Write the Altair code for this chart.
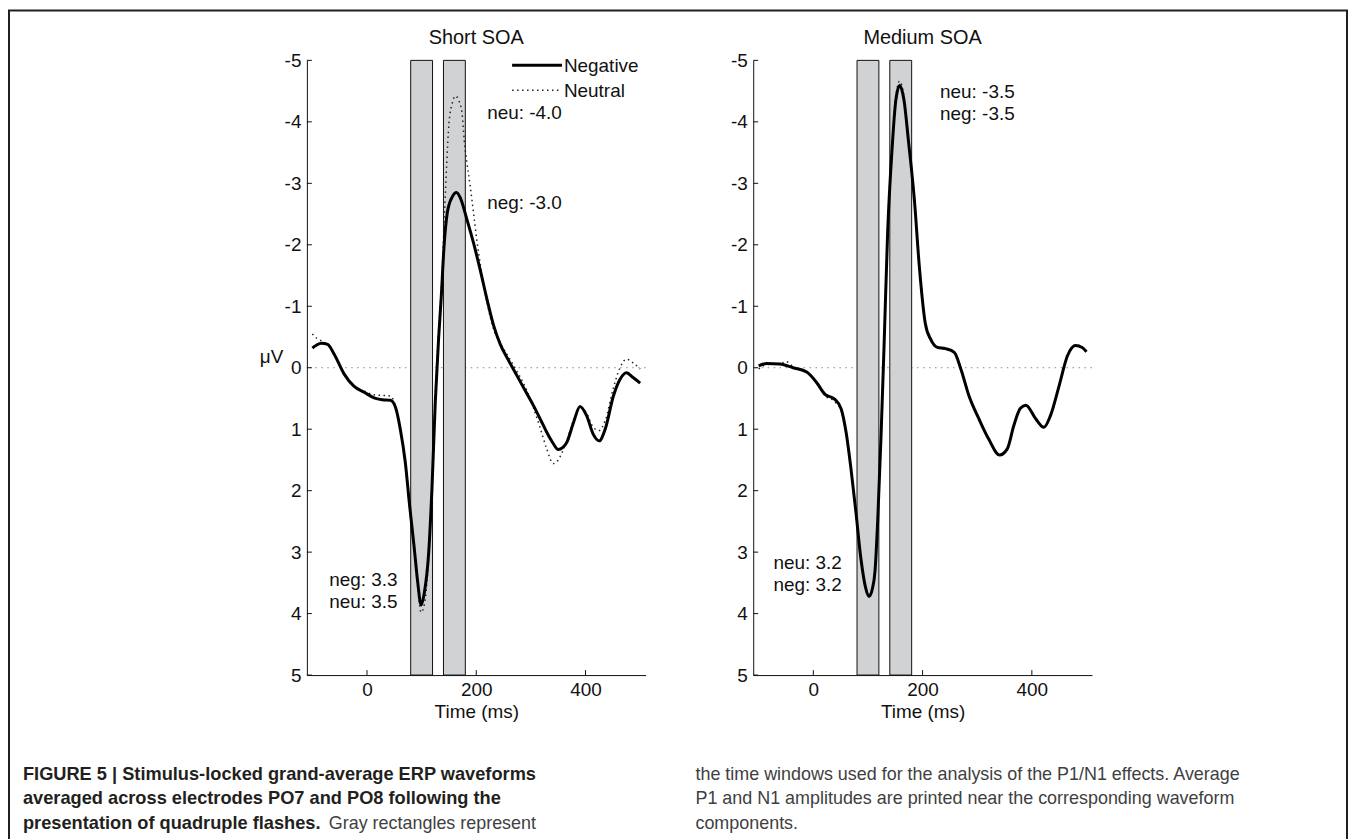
import altair as alt
import pandas as pd

FONT = "Liberation Sans"
CAPFONT = "Liberation Sans"
INK = "#111111"
FRAME = "#231f20"

# ---------------- data ----------------
panel_titles = ["Short SOA", "Medium SOA"]
legend_labels = ["Negative", "Neutral"]
x_ticks = [0, 200, 400]
y_ticks = [-5, -4, -3, -2, -1, 0, 1, 2, 3, 4, 5]
window_start = [80, 140]
window_end = [120, 180]

short_neg_t = [-100, -92, -84, -72, -60, -42, -24, -5, 13, 28, 43, 52, 61, 70, 78, 86, 93, 99, 105, 113,
               119, 125, 131, 136, 141, 147, 156, 164, 171, 183, 195, 207, 220, 232, 244, 259, 274, 290, 305, 318,
               329, 340, 350, 358, 366, 378, 390, 402, 414, 425, 436, 451, 463, 475, 487, 500]
short_neg_v = [-0.32, -0.37, -0.40, -0.38, -0.22, 0.10, 0.30, 0.40, 0.49, 0.52, 0.53, 0.64, 1.00, 1.53, 2.24, 2.89, 3.50, 3.86, 3.66, 3.00,
               1.95, 0.56, -0.46, -1.16, -1.97, -2.52, -2.78, -2.85, -2.76, -2.41, -2.03, -1.60, -1.10, -0.68, -0.38, -0.12, 0.12, 0.38, 0.62, 0.85,
               1.05, 1.22, 1.33, 1.30, 1.21, 0.89, 0.63, 0.78, 1.08, 1.19, 1.00, 0.46, 0.19, 0.08, 0.16, 0.25]

short_neu_t = [-100, -92, -84, -72, -60, -42, -24, -5, 13, 28, 43, 52, 61, 70, 78, 86, 93, 99, 105, 113,
               119, 125, 131, 137, 142, 146, 150, 156, 162, 168, 174, 178, 183, 189, 195, 201, 208, 220, 232, 244,
               259, 274, 290, 305, 317, 329, 341, 350, 358, 366, 378, 390, 402, 414, 425, 436, 451, 463, 475, 487, 500]
short_neu_v = [-0.55, -0.48, -0.44, -0.37, -0.22, 0.10, 0.30, 0.38, 0.44, 0.45, 0.46, 0.62, 1.00, 1.55, 2.28, 2.95, 3.58, 3.98, 3.85, 3.08,
               1.95, 0.45, -0.57, -1.45, -2.52, -3.33, -3.97, -4.30, -4.42, -4.35, -4.14, -3.70, -3.33, -2.95, -2.52, -2.08, -1.65, -1.05, -0.62, -0.40,
               -0.18, 0.05, 0.32, 0.66, 0.98, 1.32, 1.56, 1.50, 1.36, 1.18, 0.86, 0.65, 0.74, 0.97, 1.02, 0.86, 0.33, 0.00, -0.14, -0.08, 0.02]

med_neg_t = [-100, -85, -61, -37, -12, 6, 21, 39, 51, 60, 69, 78, 87, 96, 102, 108, 113, 118, 124, 130,
             136, 144, 151, 158, 166, 174, 185, 194, 205, 215, 227, 242, 258, 270, 285, 303, 321, 341, 355, 367,
             379, 389, 407, 422, 434, 450, 465, 480, 492, 500]
med_neg_v = [-0.03, -0.07, -0.06, 0.00, 0.07, 0.24, 0.43, 0.51, 0.67, 1.05, 1.65, 2.35, 3.10, 3.59, 3.72, 3.60, 3.30, 2.46, 1.10, -0.50,
             -2.19, -3.54, -4.35, -4.59, -4.35, -3.70, -2.73, -1.65, -0.72, -0.46, -0.33, -0.31, -0.25, 0.02, 0.46, 0.83, 1.16, 1.42, 1.32, 0.94,
             0.66, 0.61, 0.83, 0.97, 0.78, 0.29, -0.19, -0.36, -0.33, -0.26]

med_neu_t = [-100, -85, -61, -50, -37, -12, 6, 21, 39, 51, 60, 69, 78, 87, 96, 102, 108, 113, 118, 124, 130,
             136, 144, 151, 158, 166, 174, 185, 194, 205, 215, 227, 242, 258, 270, 285, 303, 321, 341, 355, 367,
             379, 389, 407, 422, 434, 450, 465, 480, 492, 500]
med_neu_v = [0.02, -0.05, -0.06, -0.10, -0.02, 0.07, 0.24, 0.45, 0.55, 0.70, 1.08, 1.68, 2.40, 3.12, 3.59, 3.70, 3.58, 3.28, 2.42, 1.05, -0.55,
             -2.25, -3.60, -4.42, -4.66, -4.40, -3.72, -2.75, -1.65, -0.72, -0.44, -0.32, -0.30, -0.26, 0.00, 0.44, 0.82, 1.16, 1.43, 1.33, 0.95,
             0.66, 0.61, 0.82, 0.97, 0.78, 0.29, -0.19, -0.37, -0.34, -0.27]

short_ann_text = ["neu: -4.0", "neg: -3.0", "neg: 3.3", "neu: 3.5"]
short_ann_t = [220, 220, -69, -69]
short_ann_v = [-4.14, -2.68, 3.45, 3.81]
med_ann_text = ["neu: -3.5", "neg: -3.5", "neu: 3.2", "neg: 3.2"]
med_ann_t = [232, 232, -73, -73]
med_ann_v = [-4.49, -4.12, 3.18, 3.53]

caption_left_bold = ["FIGURE 5 | Stimulus-locked grand-average ERP waveforms",
                     "averaged across electrodes PO7 and PO8 following the",
                     "presentation of quadruple flashes."]
caption_left_tail = "Gray rectangles represent"
caption_right = ["the time windows used for the analysis of the P1/N1 effects. Average",
                 "P1 and N1 amplitudes are printed near the corresponding waveform",
                 "components."]

# ---------------- layout constants ----------------
W, H = 340, 617
XDOM = [-110, 510]
INNER_W = 1341
BORDER_H = 840
TOP_GAP = 19
SP1 = 250
SP2 = 84
CAP_H = 110
CAP_TOP = 53
CAP_STEP = 24.5


def one():
    return pd.DataFrame({"a": [0]})


def panel(title, neg_t, neg_v, neu_t, neu_v, ann_text, ann_t, ann_v, first):
    xaxis = alt.Axis(values=x_ticks, tickSize=0, labelPadding=6, title="Time (ms)", titlePadding=3,
                     grid=False, domainColor=INK, domainWidth=1, labelFontSize=19, titleFontSize=19,
                     labelFont=FONT, titleFont=FONT, titleFontWeight="normal", labelColor=INK,
                     titleColor=INK, labelFlush=False)
    ykw = dict(values=y_ticks, tickSize=0, labelPadding=6, grid=False, domainColor=INK, domainWidth=1,
               labelFontSize=19, labelFont=FONT, labelColor=INK, labelExpr="'' + datum.value")
    if first:
        yaxis = alt.Axis(title="μV", titleAngle=0, titleX=-36, titleY=297, titleAlign="center",
                         titleBaseline="middle", titleFontSize=19, titleFont=FONT,
                         titleFontWeight="normal", titleColor=INK, **ykw)
    else:
        yaxis = alt.Axis(title=None, **ykw)

    def X(f):
        return alt.X(f, type="quantitative", scale=alt.Scale(domain=XDOM, nice=False, zero=False), axis=xaxis)

    def Y(f):
        return alt.Y(f, type="quantitative", scale=alt.Scale(domain=[-5, 5], reverse=True, nice=False, zero=False), axis=yaxis)

    zero = alt.Chart(pd.DataFrame({"v": [0]})).mark_rule(color="#8a8a8a", strokeDash=[1.5, 4.5], strokeWidth=1).encode(y=Y("v"))
    rects = alt.Chart(pd.DataFrame({"t": window_start, "t2": window_end, "v": [-5, -5], "v2": [5, 5]})).mark_rect(
        fill="#d1d2d4", stroke="#111111", strokeWidth=1).encode(x=X("t"), x2="t2", y=Y("v"), y2="v2")
    yt = alt.Chart(pd.DataFrame({"v": y_ticks})).mark_rule(color=INK, strokeWidth=1).encode(
        y=Y("v"), x=alt.value(0), x2=alt.value(5))
    xt = alt.Chart(pd.DataFrame({"t": x_ticks})).mark_rule(color=INK, strokeWidth=1).encode(
        x=X("t"), y=alt.value(H), y2=alt.value(H - 5))
    neg = alt.Chart(pd.DataFrame({"t": neg_t, "v": neg_v})).mark_line(
        color="#000000", strokeWidth=3, interpolate="monotone").encode(x=X("t"), y=Y("v"))
    neu = alt.Chart(pd.DataFrame({"t": neu_t, "v": neu_v})).mark_line(
        color="#222222", strokeWidth=1.5, strokeDash=[1.5, 3.5], interpolate="monotone").encode(x=X("t"), y=Y("v"))
    ann = alt.Chart(pd.DataFrame({"label": ann_text, "t": ann_t, "v": ann_v})).mark_text(
        align="left", baseline="middle", fontSize=19, font=FONT, color=INK).encode(x=X("t"), y=Y("v"), text="label:N")
    layers = [zero, rects, yt, xt, neu, neg, ann]
    if first:
        l1 = alt.Chart(one()).mark_rule(color="#000000", strokeWidth=3).encode(
            x=alt.value(206), x2=alt.value(256), y=alt.value(5))
        l2 = alt.Chart(one()).mark_rule(color="#222222", strokeWidth=1.5, strokeDash=[1.5, 3.5]).encode(
            x=alt.value(206), x2=alt.value(256), y=alt.value(30))
        t1 = alt.Chart(one()).mark_text(text=legend_labels[0], align="left", baseline="middle", fontSize=19,
                                        font=FONT, color=INK).encode(x=alt.value(258), y=alt.value(6))
        t2 = alt.Chart(one()).mark_text(text=legend_labels[1], align="left", baseline="middle", fontSize=19,
                                        font=FONT, color=INK).encode(x=alt.value(258), y=alt.value(31))
        layers += [l1, l2, t1, t2]
    return alt.layer(*layers).properties(
        width=W, height=H,
        title=alt.TitleParams(title, fontSize=20, font=FONT, fontWeight="normal", color=INK, offset=3, anchor="middle"))


def blank(w, h):
    return alt.Chart(one()).mark_rect(opacity=0).encode(
        x=alt.value(0), x2=alt.value(w), y=alt.value(0), y2=alt.value(h)).properties(width=w, height=h)


def vborder():
    return alt.Chart(one()).mark_rect(color=FRAME).encode(
        x=alt.value(0), x2=alt.value(2), y=alt.value(0), y2=alt.value(BORDER_H)).properties(width=2, height=BORDER_H)


top_border = alt.Chart(one()).mark_rect(color=FRAME).encode(
    x=alt.value(0), x2=alt.value(INNER_W), y=alt.value(0), y2=alt.value(2)).properties(width=INNER_W, height=TOP_GAP)

left_panel = panel(panel_titles[0], short_neg_t, short_neg_v, short_neu_t, short_neu_v,
                   short_ann_text, short_ann_t, short_ann_v, True)
right_panel = panel(panel_titles[1], med_neg_t, med_neg_v, med_neu_t, med_neu_v,
                    med_ann_text, med_ann_t, med_ann_v, False)

row = alt.hconcat(blank(SP1, 10), left_panel, blank(SP2, 10), right_panel, spacing=0)

cap_layers = []
for i, line in enumerate(caption_left_bold):
    cap_layers.append(alt.Chart(one()).mark_text(
        text=line, align="left", baseline="middle", fontSize=18.3, font=CAPFONT, fontWeight="bold", color=FRAME
    ).encode(x=alt.value(13), y=alt.value(CAP_TOP + CAP_STEP * i)))
cap_layers.append(alt.Chart(one()).mark_text(
    text=caption_left_tail, align="left", baseline="middle", fontSize=18, font=CAPFONT, color="#404040"
).encode(x=alt.value(320), y=alt.value(CAP_TOP + CAP_STEP * 2)))
for i, line in enumerate(caption_right):
    cap_layers.append(alt.Chart(one()).mark_text(
        text=line, align="left", baseline="middle", fontSize=18, font=CAPFONT, color="#404040"
    ).encode(x=alt.value(688), y=alt.value(CAP_TOP + CAP_STEP * i)))
caption = alt.layer(*cap_layers).properties(width=INNER_W, height=CAP_H)

middle = alt.vconcat(top_border, row, caption, spacing=0)
chart = alt.hconcat(vborder(), middle, vborder(), spacing=0).properties(padding=0).configure_view(stroke=None)

chart.save("out.html", embed_options={"renderer": "svg", "actions": False})
